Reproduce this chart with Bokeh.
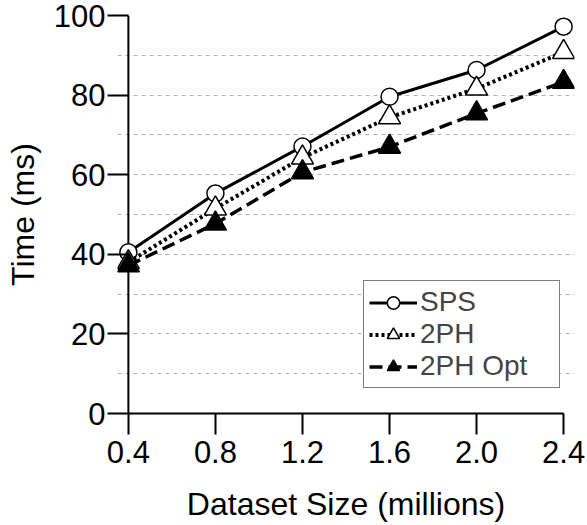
from bokeh.plotting import figure
from bokeh.models import Range1d, FixedTicker, PrintfTickFormatter, Grid, Legend, LegendItem, Span
from bokeh.embed import file_html
from bokeh.resources import INLINE

sizes = [0.4, 0.8, 1.2, 1.6, 2.0, 2.4]
sps = [40.5, 55.3, 67.1, 79.6, 86.3, 97.2]
tph = [38.0, 51.5, 64.3, 74.4, 81.6, 90.8]
tph_opt = [37.2, 47.7, 60.6, 67.0, 75.4, 83.3]
y_ticks = [0, 20, 40, 60, 80, 100]
grid_ticks = [10, 20, 30, 40, 50, 60, 70, 80, 90, 100]
x_title = "Dataset Size (millions)"
y_title = "Time (ms)"

FONT = "Liberation Sans"

p = figure(width=587, height=525, output_backend="svg", toolbar_location=None,
           x_range=Range1d(0.35, 2.45), y_range=Range1d(0, 100),
           min_border_left=117, min_border_right=13, min_border_top=15, min_border_bottom=112)
p.outline_line_color = None
p.xgrid.visible = False
p.ygrid.visible = False

g = Grid(dimension=1, ticker=FixedTicker(ticks=grid_ticks), grid_line_color="#b0b0b0",
         grid_line_dash="4 4", grid_line_width=1, bounds=(0.4, 2.4))
p.add_layout(g)

for ax in (p.xaxis[0], p.yaxis[0]):
    ax.axis_line_width = 2
    ax.major_tick_line_width = 2
    ax.minor_tick_line_color = None
    ax.major_label_text_font = FONT
    ax.major_label_text_font_size = "31px"
    ax.major_label_text_color = "black"
    ax.axis_label_text_font = FONT
    ax.axis_label_text_font_size = "32px"
    ax.axis_label_text_font_style = "normal"
    ax.axis_label_text_color = "black"

xa = p.xaxis[0]
xa.ticker = FixedTicker(ticks=sizes)
xa.formatter = PrintfTickFormatter(format="%.1f")
xa.bounds = (0.4, 2.4)
xa.major_tick_out = 21
xa.major_tick_in = 0
xa.axis_label = x_title
xa.major_label_standoff = 6
xa.axis_label_standoff = 20

ya = p.yaxis[0]
ya.ticker = FixedTicker(ticks=y_ticks)
ya.axis_line_color = None
ya.major_tick_out = 10
ya.major_tick_in = 11
ya.axis_label = y_title
ya.major_label_standoff = 2
ya.axis_label_standoff = 10

yline = Span(location=sizes[0], dimension="height", line_color="black", line_width=2, level="underlay")
p.add_layout(yline)

r1l = p.line(sizes, sps, line_color="black", line_width=3)
r1m = p.scatter(sizes, sps, marker="circle", size=17, fill_color="white", line_color="black", line_width=1.5)
r2l = p.line(sizes, tph, line_color="black", line_width=4, line_dash="3 3")
r2m = p.scatter(sizes, tph, marker="triangle", size=22, fill_color="white", line_color="black", line_width=1.5)
r3l = p.line(sizes, tph_opt, line_color="black", line_width=3.5, line_dash="13 6")
r3m = p.scatter(sizes, tph_opt, marker="triangle", size=22, fill_color="black", line_color="black", line_width=1.5)

legend = Legend(items=[LegendItem(label="SPS", renderers=[r1l, r1m]),
                       LegendItem(label="2PH", renderers=[r2l, r2m]),
                       LegendItem(label="2PH Opt", renderers=[r3l, r3m])],
                location=(246, 25), padding=5, spacing=0, margin=0,
                glyph_width=48, glyph_height=31, label_height=31, label_width=134,
                label_standoff=3, label_text_font=FONT, label_text_font_size="28px",
                border_line_color="black", border_line_width=1.5,
                background_fill_color="white", background_fill_alpha=1.0)
p.add_layout(legend, "center")

open("out.html", "w").write(file_html(p, INLINE))
